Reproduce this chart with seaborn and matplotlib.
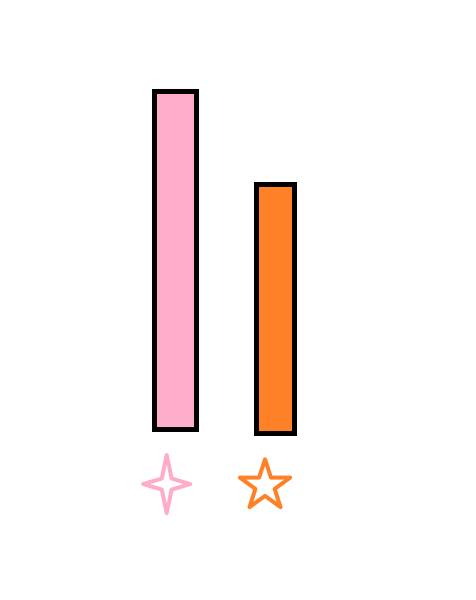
import matplotlib
matplotlib.use("Agg")
import matplotlib.pyplot as plt
from matplotlib.path import Path
import numpy as np
import pandas as pd
import seaborn as sns

# data
categories = ["pink", "orange"]
heights = [100, 73.3]
bottoms = [0, -1.0]
bar_widths = [0.418, 0.391]
colors = ["#ffaccb", "#ff8127"]

sns.set_style("white")

fig = plt.figure(figsize=(4.77, 6), dpi=100)
ax = fig.add_axes([0, 0, 1, 1])

df = pd.DataFrame({"cat": categories, "h": heights})
sns.barplot(data=df, x="cat", y="h", hue="cat", palette=colors, legend=False,
            edgecolor="black", linewidth=3.6, width=0.4, saturation=1, ax=ax)

# per-bar widths and baselines
for patch, w, b in zip(ax.patches, bar_widths, bottoms):
    cx = patch.get_x() + patch.get_width() / 2
    patch.set_width(w)
    patch.set_x(cx - w / 2)
    patch.set_y(b)

# four-point sparkle marker
sw, kx, ky = 0.81, 0.17, 0.19
sparkle = Path(
    [(0, 1), (kx, ky), (sw, 0), (kx, -ky), (0, -1), (-kx, -ky), (-sw, 0), (-kx, ky), (0, 1)],
    [Path.MOVETO] + [Path.LINETO] * 7 + [Path.CLOSEPOLY],
)

ax.scatter([-0.086], [-16.1], marker=sparkle, s=1750, facecolors="none",
           edgecolors=colors[0], linewidths=2.9, clip_on=False)
ax.scatter([0.9], [-16.6], marker="*", s=1450, facecolors="none",
           edgecolors=colors[1], linewidths=2.9, clip_on=False)

ax.set_xlim(-1.758, 3.026)
ax.set_ylim(-50.3, 126.7)
ax.axis("off")

fig.savefig("out.png", dpi=100)
